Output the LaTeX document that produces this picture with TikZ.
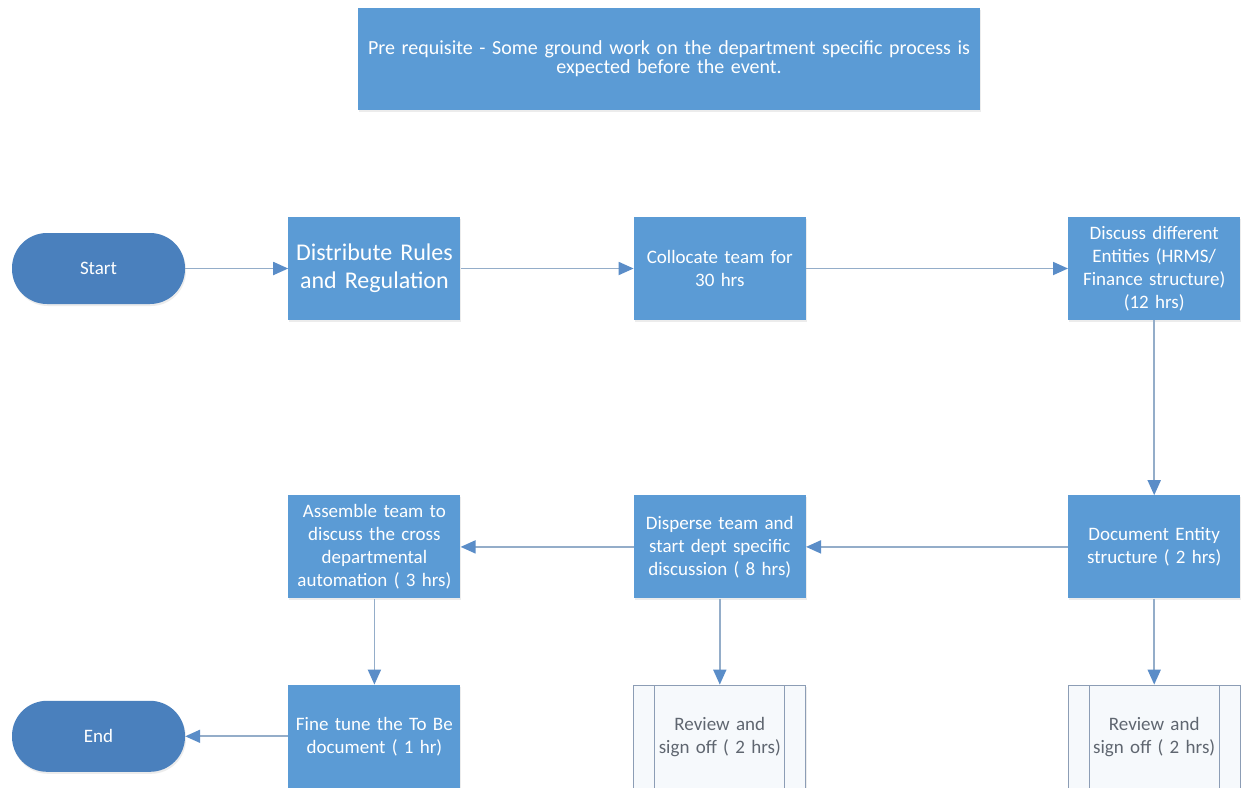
\documentclass[tikz,border=0pt]{standalone}
\usepackage{fontspec}
\setmainfont{Carlito}
\usepackage{xcolor}
\usepackage{tikz}
\usetikzlibrary{arrows.meta,positioning,shadows}
\definecolor{boxblue}{HTML}{5B9BD5}
\definecolor{termblue}{HTML}{4A80BD}
\definecolor{linegray}{HTML}{94ADC9}
\definecolor{tipblue}{HTML}{5A8DC8}
\definecolor{reviewfill}{HTML}{F6F9FC}
\definecolor{reviewline}{HTML}{8C9DB5}
\definecolor{reviewtext}{HTML}{5F6670}
\tikzstyle{block} = [rectangle, fill=boxblue, text=white, text width=166pt,
    inner xsep=3pt, inner ysep=4pt, minimum height=103pt, align=center,
    font=\fontsize{19}{23}\selectfont,
    drop shadow={opacity=0.15, shadow xshift=1pt, shadow yshift=-2pt}]
\tikzstyle{terminal} = [rectangle, rounded corners=35pt, fill=termblue, text=white,
    minimum width=173pt, minimum height=71pt, font=\fontsize{19}{23}\selectfont,
    drop shadow={opacity=0.15, shadow xshift=1pt, shadow yshift=-2pt}]
\tikzstyle{review} = [block, fill=reviewfill, draw=reviewline, line width=1pt,
    text=reviewtext,
    path picture={
      \draw[reviewline, line width=1pt]
        ([xshift=21pt]path picture bounding box.north west) -- ([xshift=21pt]path picture bounding box.south west)
        ([xshift=-21pt]path picture bounding box.north east) -- ([xshift=-21pt]path picture bounding box.south east);}]
\tikzstyle{connector} = [draw=linegray, line width=1.8pt,
    -{Triangle[length=15pt, width=13pt, color=tipblue]}]

\begin{document}
\begin{tikzpicture}[x=1pt, y=-1pt]
		\useasboundingbox[fill=white] (0,0) rectangle (1241,787);

		\node[block, text width=606pt, inner xsep=8pt, minimum height=102pt,
		  font=\fontsize{20}{19}\selectfont] (pre) at (669,59)
		  {Pre requisite - Some ground work on the department specific process is\\expected before the event.};

		\node[terminal] (start) at (98.5,268.5) {Start};
		\node[block, right=103pt of start, font=\fontsize{24}{28}\selectfont] (dist) {Distribute Rules\\and Regulation};
		\node[block, right=173pt of dist] (coll) {Collocate team for\\30 hrs};
		\node[block, right=262pt of coll] (disc) {Discuss different\\Entities (HRMS/\\Finance structure)\\(12 hrs)};
		\node[block, below=175pt of disc] (doc) {Document Entity\\structure ( 2 hrs)};
		\node[block, left=262pt of doc] (disp) {Disperse team and\\start dept specific\\discussion ( 8 hrs)};
		\node[block, left=173pt of disp] (asm) {Assemble team to\\discuss the cross\\departmental\\automation ( 3 hrs)};
		\node[block, below=86pt of asm] (fine) {Fine tune the To Be\\document ( 1 hr)};
		\node[review, below=86pt of disp] (revA) {Review and\\sign off ( 2 hrs)};
		\node[review, below=86pt of doc] (revB) {Review and\\sign off ( 2 hrs)};
		\node[terminal, left=103pt of fine] (end) {End};

		\draw[connector] (start) -- (dist);
		\draw[connector] (dist) -- (coll);
		\draw[connector] (coll) -- (disc);
		\draw[connector] (disc) -- (doc);
		\draw[connector] (doc) -- (disp);
		\draw[connector] (disp) -- (asm);
		\draw[connector] (asm) -- (fine);
		\draw[connector] (disp) -- (revA);
		\draw[connector] (doc) -- (revB);
		\draw[connector] (fine) -- (end);
	\end{tikzpicture}
\end{document}
